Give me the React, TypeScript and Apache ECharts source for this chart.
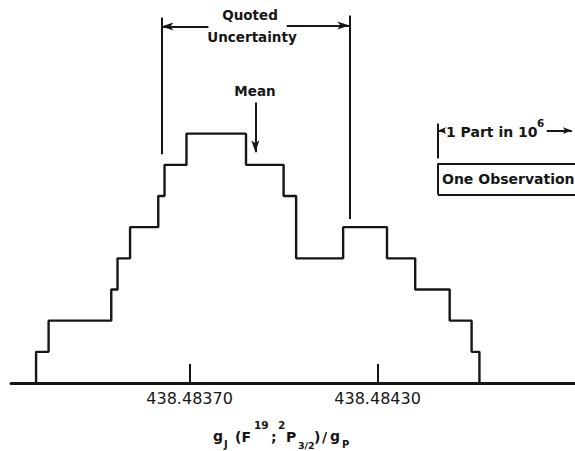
import React, { useEffect, useRef } from "react";
import * as echarts from "echarts";

// Histogram bin edges (g_J / g_P values) and counts per bin
const binEdges = [
  438.48321, 438.48325, 438.48345, 438.48347, 438.48351, 438.4836, 438.48362,
  438.48369, 438.48388, 438.484, 438.48404, 438.48419, 438.48433, 438.48442,
  438.48453, 438.4846, 438.484625,
];
const binCounts = [1, 2, 3, 4, 5, 6, 7, 8, 7, 6, 4, 5, 4, 3, 2, 1];

// Axis ticks
const tickValues = [438.4837, 438.4843];
const X_MIN = 438.48313;
const X_MAX = 438.48493;
const Y_MAX = 12;

// Annotations (values)
const quotedLow = 438.48361;
const quotedHigh = 438.48421;
const meanValue = 438.48391;
const partStart = 438.484493; // left end of "1 part in 10^6" scale
const partEnd = 438.48492;
const obsBottom = 6.05; // "One Observation" box spans one count
const obsTop = 7.05;

const INK = "#161616";
const FONT = "DejaVu Sans";

// Axis title pieces: [text, left x, center y, font size]
const titlePieces: [string, number, number, number][] = [
  ["g", 213, 436, 14],
  ["J", 224, 444, 10],
  ["(F", 235, 437, 14],
  ["19", 254, 425, 10.5],
  [";", 271, 437, 14],
  ["2", 278, 425, 10.5],
  ["P", 286, 437, 14],
  ["3/2", 298, 445, 9.5],
  [")", 314, 437, 14],
  ["/", 322, 437, 14],
  ["g", 330, 436, 14],
  ["P", 342, 444, 10],
];

export default function App() {
  const ref = useRef<HTMLDivElement>(null);

  useEffect(() => {
    if (!ref.current) return;
    const chart = echarts.init(ref.current, null, { renderer: "svg" });

    const stepData: [number, number][] = [[binEdges[0], 0]];
    binCounts.forEach((c, i) => stepData.push([binEdges[i], c]));
    stepData.push([binEdges[binEdges.length - 1], 0]);

    const arrow = { symbol: "arrow", symbolSize: [6, 12] };
    const plain = { symbol: "none" };

    const markLines: any[] = [
      // Quoted uncertainty verticals
      [{ coord: [quotedLow, 11.73], ...plain }, { coord: [quotedLow, 7.34], ...plain }],
      [{ coord: [quotedHigh, 11.79], ...plain }, { coord: [quotedHigh, 5.26], ...plain }],
      // Quoted uncertainty arrows
      [{ coord: [438.48376, 11.44], ...plain }, { coord: [quotedLow, 11.44], ...arrow }],
      [{ coord: [438.48401, 11.47], ...plain }, { coord: [quotedHigh, 11.47], ...arrow }],
      // Mean arrow
      [{ coord: [meanValue, 9.0], ...plain }, { coord: [meanValue, 7.4], ...arrow }],
      // 1 part in 10^6 bracket
      [{ coord: [partStart, 8.33], ...plain }, { coord: [partStart, 7.2], ...plain }],
      [{ coord: [438.484515, 8.1], ...plain }, { coord: [partStart, 8.1], symbol: "arrow", symbolSize: [5, 8] }],
      [{ coord: [438.48484, 8.1], ...plain }, { coord: [partEnd, 8.1], symbol: "arrow", symbolSize: [5, 9] }],
      // One observation box (open at the right edge)
      [{ coord: [partStart, obsTop], ...plain }, { coord: [X_MAX, obsTop], ...plain }],
      [{ coord: [partStart, obsBottom], ...plain }, { coord: [X_MAX, obsBottom], ...plain }],
      [{ coord: [partStart, obsTop], ...plain }, { coord: [partStart, obsBottom], ...plain }],
    ];

    const titleGraphics = titlePieces.map(([t, x, y, s]) => ({
      type: "text",
      x,
      y,
      silent: true,
      style: {
        text: t,
        fill: INK,
        font: `bold ${s}px "${FONT}"`,
        align: "left",
        verticalAlign: "middle",
      },
    }));

    const label = (text: string, x: number, y: number, size: number, align = "center") => ({
      type: "text",
      x,
      y,
      silent: true,
      style: {
        text,
        fill: INK,
        font: `bold ${size}px "${FONT}"`,
        align,
        verticalAlign: "middle",
      },
    });

    chart.setOption({
      animation: false,
      backgroundColor: "#ffffff",
      grid: { left: 11, right: 0, top: 9, bottom: 68, containLabel: false },
      xAxis: {
        type: "value",
        min: X_MIN,
        max: X_MAX,
        splitLine: { show: false },
        axisLine: { show: true, lineStyle: { color: INK, width: 3 } },
        axisTick: {
          show: true,
          inside: true,
          length: 19,
          customValues: tickValues,
          lineStyle: { color: INK, width: 2 },
        },
        axisLabel: {
          show: true,
          customValues: tickValues,
          margin: 7,
          color: INK,
          fontFamily: FONT,
          fontSize: 16,
          formatter: (v: number) => v.toFixed(5),
        },
      },
      yAxis: {
        type: "value",
        min: 0,
        max: Y_MAX,
        show: false,
        splitLine: { show: false },
      },
      series: [
        {
          type: "line",
          step: "end",
          data: stepData,
          symbol: "none",
          silent: true,
          lineStyle: { color: INK, width: 2.4 },
          markLine: {
            silent: true,
            symbol: ["none", "none"],
            label: { show: false },
            emphasis: { disabled: true },
            lineStyle: { color: INK, width: 2, type: "solid" },
            data: markLines,
          },
        },
      ],
      graphic: [
        label("Quoted", 250, 15, 13.5),
        label("Uncertainty", 252, 37, 13.5),
        label("Mean", 255, 91, 13.5),
        label("1 Part in 10", 446, 132, 14, "left"),
        label("6", 537, 123, 10.5, "left"),
        label("One Observation", 442, 179, 14, "left"),
        ...titleGraphics,
      ],
    });

    return () => chart.dispose();
  }, []);

  return (
    <div
      ref={ref}
      style={{ position: "fixed", left: 0, top: 0, width: 575, height: 451, background: "#fff" }}
    />
  );
}
